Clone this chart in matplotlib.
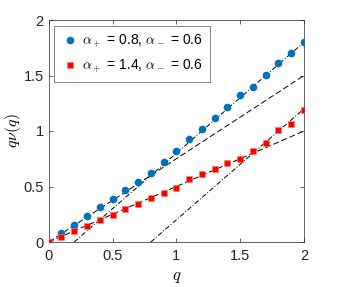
import numpy as np
import matplotlib
matplotlib.use("Agg")
import matplotlib.pyplot as plt

plt.rcParams['mathtext.fontset'] = 'cm'
plt.rcParams['font.family'] = ['Liberation Sans', 'DejaVu Sans']

q = [0.0, 0.1, 0.2, 0.3, 0.4, 0.5, 0.6, 0.7, 0.8, 0.9, 1.0,
     1.1, 1.2, 1.3, 1.4, 1.5, 1.6, 1.7, 1.8, 1.9, 2.0]
blue_vals = [0.0, 0.078, 0.15, 0.23, 0.315, 0.39, 0.47, 0.545, 0.62, 0.72, 0.82,
             0.93, 1.02, 1.115, 1.22, 1.325, 1.40, 1.505, 1.61, 1.70, 1.805]
red_vals = [0.0, 0.048, 0.10, 0.145, 0.195, 0.243, 0.295, 0.345, 0.396, 0.44, 0.49,
            0.568, 0.615, 0.655, 0.715, 0.75, 0.817, 0.89, 1.01, 1.066, 1.186]

# asymptotic lines: slope, intercept
dashed_slopes = [0.75, 0.5]
dashdot_intercepts = [0.2, 0.8]

fig = plt.figure(figsize=(3.37, 2.87), dpi=100)
ax = fig.add_axes([48.7/337, 45/287, (304-48.7)/337, (242-20)/287])

qq = np.array([0.0, 2.0])
for s in dashed_slopes:
    ax.plot(qq, s*qq, color='black', lw=0.7, ls=(0, (6, 3)), zorder=1)
for b in dashdot_intercepts:
    xs = np.array([b, 2.0])
    ax.plot(xs, xs - b, color='black', lw=0.7, ls=(0, (5, 2, 1, 2)), zorder=1)

ax.plot(q, blue_vals, 'o', color='#0072BD', ms=5.5, mec='none', zorder=3,
        label=r'$\alpha_+$ = 0.8, $\alpha_-$ = 0.6')
ax.plot(q, red_vals, 's', color='#FF0000', ms=4.2, mec='#FF7F50', mew=0.4, zorder=3,
        label=r'$\alpha_+$ = 1.4, $\alpha_-$ = 0.6')

ax.set_xlim(0, 2)
ax.set_ylim(0, 2)
ax.set_xticks([0, 0.5, 1, 1.5, 2])
ax.set_yticks([0, 0.5, 1, 1.5, 2])
ax.set_xticklabels(['0', '0.5', '1', '1.5', '2'])
ax.set_yticklabels(['0', '0.5', '1', '1.5', '2'])
ax.tick_params(direction='in', top=True, right=True, labelsize=10.5, length=3,
               width=0.5, colors='#262626')
ax.tick_params(axis='x', pad=5)
for sp in ax.spines.values():
    sp.set_linewidth(0.5)
    sp.set_color('#262626')
ax.set_xlabel(r'$q$', fontsize=12, labelpad=5)
ax.set_ylabel(r'$q\nu(q)$', fontsize=11.5, labelpad=0)

leg = ax.legend(loc='upper left', fontsize=10, frameon=True, fancybox=False,
                edgecolor='#262626', handletextpad=0.3, borderpad=0.5,
                labelspacing=0.6, handlelength=1.2, borderaxespad=0.4)
leg.get_frame().set_linewidth(0.5)

fig.savefig('out.png', dpi=100)
